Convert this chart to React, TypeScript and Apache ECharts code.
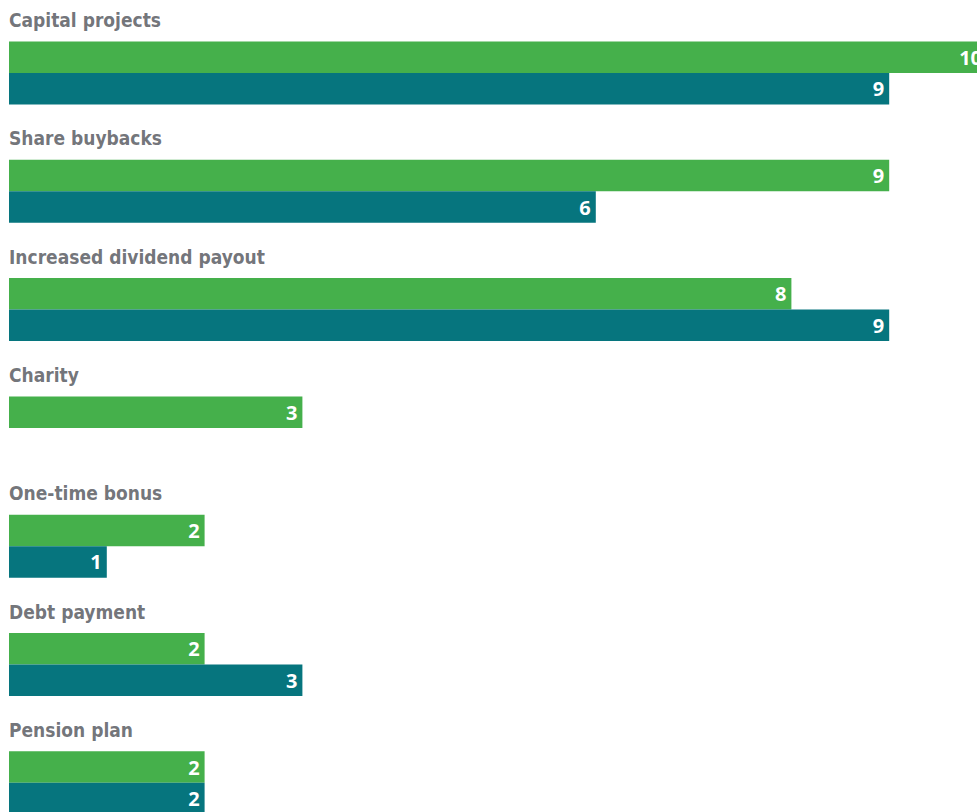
import React, { useEffect, useRef } from "react";
import * as echarts from "echarts";

const categories = [
  "Capital projects",
  "Share buybacks",
  "Increased dividend payout",
  "Charity",
  "One-time bonus",
  "Debt payment",
  "Pension plan",
];
const greenValues = [10, 9, 8, 3, 2, 2, 2];
const tealValues: (number | null)[] = [9, 6, 9, null, 1, 3, 2];

export default function App() {
  const ref = useRef<HTMLDivElement>(null);
  useEffect(() => {
    if (!ref.current) return;
    const chart = echarts.init(ref.current, null, { renderer: "svg" });
    const valueLabel = {
      show: true,
      position: "insideRight" as const,
      distance: 5,
      color: "#ffffff",
      fontFamily: "'Open Sans', sans-serif",
      fontWeight: "bold" as const,
      fontSize: 20,
    };
    chart.setOption({
      animation: false,
      grid: { left: 9, right: 0, top: 13.8, bottom: 0, containLabel: false },
      xAxis: { type: "value", min: 0, max: 10, show: false },
      yAxis: {
        type: "category",
        data: categories,
        inverse: true,
        axisLine: { show: false },
        axisTick: { show: false },
        splitLine: { show: false },
        axisLabel: { show: false },
      },
      series: [
        {
          type: "bar",
          data: greenValues,
          barWidth: 31.5,
          barGap: "0%",
          itemStyle: { color: "#45b04b" },
          label: valueLabel,
        },
        {
          type: "bar",
          data: tealValues,
          barWidth: 31.5,
          barGap: "0%",
          itemStyle: { color: "#06757e" },
          label: valueLabel,
        },
        {
          type: "scatter",
          data: categories.map((c) => [0, c]),
          symbolSize: 0,
          silent: true,
          z: 5,
          label: {
            show: true,
            position: "right",
            distance: 0,
            offset: [0, -53],
            formatter: (p: any) => p.data[1],
            color: "#4e5057",
            fontFamily: "'DejaVu Sans Condensed', 'Liberation Sans Narrow', sans-serif",
            fontWeight: "bold",
            fontSize: 19,
          },
        },
      ],
    });
    return () => chart.dispose();
  }, []);
  return (
    <div style={{ position: "absolute", left: 0, top: 0, width: 977, height: 812, overflow: "hidden" }}>
      <div ref={ref} style={{ width: 987, height: 842 }} />
    </div>
  );
}
